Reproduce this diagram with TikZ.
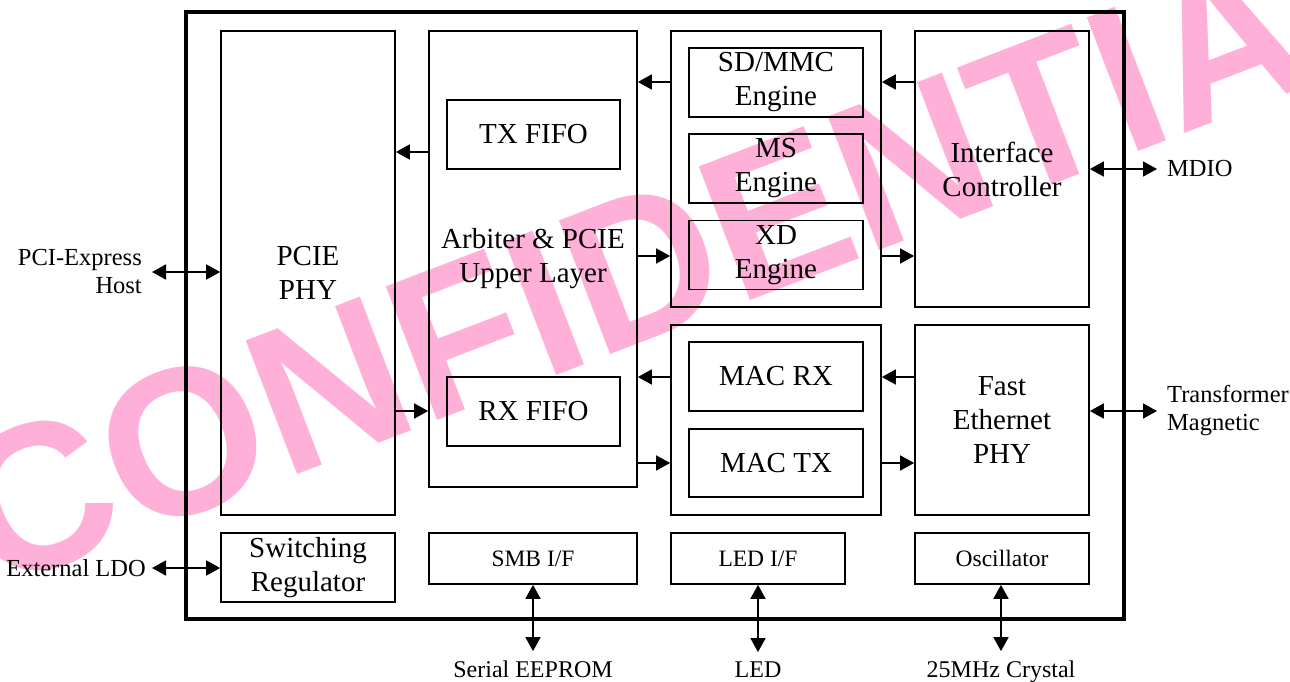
\documentclass[tikz,border=0pt]{standalone}
\usepackage{fontspec}
\setmainfont{Liberation Serif}
\newfontfamily\wmfont{Liberation Sans}
\usetikzlibrary{arrows.meta}
\definecolor{wmpink}{RGB}{255, 176, 216}

\tikzset{
  blk/.style={draw, line width=1.7pt, inner sep=0pt, align=center,
    font=\fontsize{29}{34}\selectfont},
  smallblk/.style={blk, font=\fontsize{23.5}{27}\selectfont},
  lbl/.style={inner sep=0pt, align=left, font=\fontsize{24.5}{28}\selectfont},
  botlbl/.style={inner sep=0pt, anchor=base, font=\fontsize{24}{27}\selectfont},
  arr/.style={line width=1.7pt, -{Triangle[length=14pt, width=15pt]}},
  biarr/.style={line width=1.7pt, {Triangle[length=14pt, width=15pt]}-{Triangle[length=14pt, width=15pt]}},
}

\begin{document}
\begin{tikzpicture}[x=1pt, y=-1pt]
  \useasboundingbox (0,0) rectangle (1290,682);
  % watermark
  \node[wmpink, rotate=21, inner sep=0pt, font=\wmfont\bfseries\fontsize{208}{208}\selectfont]
        (stamp) at (690,247) {CONFIDENTIAL};

  % chip outline
  \draw[line width=4.5pt] (186,12) rectangle (1124,619);

  % blocks
  \node[blk, minimum width=174pt, minimum height=484pt] (phy) at (308,273) {PCIE\\PHY};
  \node[blk, minimum width=208pt, minimum height=456pt] (arb) at (533,259) {Arbiter \& PCIE\\Upper Layer};
  \node[blk, minimum width=173pt, minimum height=69pt] (txf) at (533.5,134.5) {TX FIFO};
  \node[blk, minimum width=173pt, minimum height=69pt] (rxf) at (533.5,411.5) {RX FIFO};
  \node[blk, minimum width=210pt, minimum height=276pt] (card) at (776,169) {};
  \node[blk, minimum width=174pt, minimum height=69pt] (sd) at (776,82.5) {SD/MMC\\Engine};
  \node[blk, minimum width=174pt, minimum height=69pt] (ms) at (776,168.5) {MS\\Engine};
  \node[blk, minimum width=174pt, minimum height=69pt] (xd) at (776,255) {XD\\Engine};
  \node[blk, minimum width=174pt, minimum height=276pt] (ic) at (1002,169) {Interface\\Controller};
  \node[blk, minimum width=210pt, minimum height=190pt] (mac) at (776,420) {};
  \node[blk, minimum width=174pt, minimum height=69pt] (macrx) at (776,376.5) {MAC RX};
  \node[blk, minimum width=174pt, minimum height=68pt] (mactx) at (776,463) {MAC TX};
  \node[blk, minimum width=174pt, minimum height=190pt] (fe) at (1002,420) {Fast\\Ethernet\\PHY};
  \node[blk, minimum width=174pt, minimum height=69pt] (sw) at (308,567.5) {Switching\\Regulator};
  \node[smallblk, minimum width=208pt, minimum height=51pt] (smb) at (533,558.5) {SMB I/F};
  \node[smallblk, minimum width=174pt, minimum height=51pt] (led) at (758,558.5) {LED I/F};
  \node[smallblk, minimum width=174pt, minimum height=51pt] (osc) at (1002,558.5) {Oscillator};

  % outside labels
  \node[lbl, align=right, anchor=east] (host) at (142,272) {PCI-Express\\Host};
  \node[lbl, anchor=east] (ldo) at (146,568) {External LDO};
  \node[lbl, anchor=west] (mdio) at (1167,169) {MDIO};
  \node[lbl, anchor=west] (trans) at (1167,411) {Transformer\\Magnetic};
  \node[botlbl] (eeprom) at (533,677) {Serial EEPROM};
  \node[botlbl] (ledout) at (758,677) {LED};
  \node[botlbl] (xtal) at (1001,677) {25MHz Crystal};

  % internal data paths
  \draw[arr] (arb.west |- 0,152) -- (phy.east |- 0,152);
  \draw[arr] (phy.east |- 0,411) -- (arb.west |- 0,411);
  \draw[arr] (card.west |- 0,82) -- (arb.east |- 0,82);
  \draw[arr] (arb.east |- 0,256) -- (card.west |- 0,256);
  \draw[arr] (ic.west |- 0,82) -- (card.east |- 0,82);
  \draw[arr] (card.east |- 0,256) -- (ic.west |- 0,256);
  \draw[arr] (mac.west |- 0,377) -- (arb.east |- 0,377);
  \draw[arr] (arb.east |- 0,463) -- (mac.west |- 0,463);
  \draw[arr] (fe.west |- 0,377) -- (mac.east |- 0,377);
  \draw[arr] (mac.east |- 0,463) -- (fe.west |- 0,463);

  % external connections
  \draw[biarr] ([xshift=10pt]host.east) -- (phy.west |- host.east);
  \draw[biarr] ([xshift=6pt]ldo.east) -- (sw.west |- ldo.east);
  \draw[biarr] (ic.east |- mdio.west) -- ([xshift=-10pt]mdio.west);
  \draw[biarr] (fe.east |- trans.west) -- ([xshift=-10pt]trans.west);
  \draw[biarr] (smb.south) -- ([yshift=9pt]eeprom.north);
  \draw[biarr] (led.south) -- ([yshift=9pt]ledout.north);
  \draw[biarr] (osc.south -| xtal.north) -- ([yshift=9pt]xtal.north);
\end{tikzpicture}
\end{document}
